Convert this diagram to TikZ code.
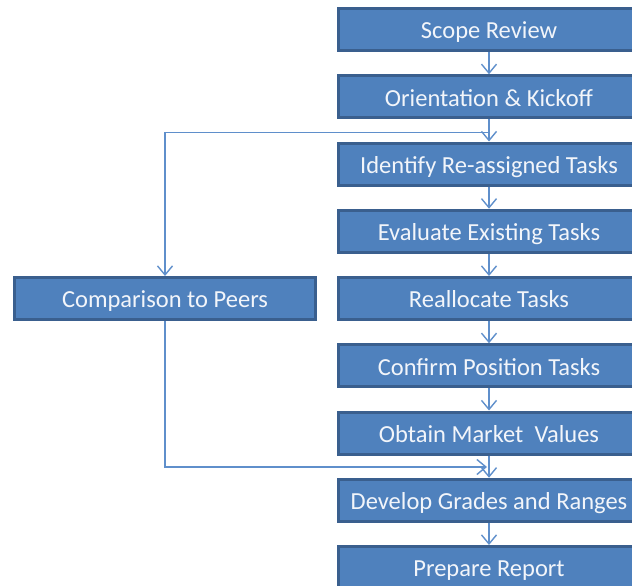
\documentclass[tikz,border=0pt]{standalone}
\usepackage{fontspec}
\setmainfont{Carlito}
\usetikzlibrary{arrows.meta}
\definecolor{boxfill}{HTML}{4F81BD}
\definecolor{boxedge}{HTML}{3A5F8E}
\definecolor{linkblue}{HTML}{5F8FCB}
\definecolor{boxtext}{HTML}{F2F5FA}
\tikzset{
  stepbox/.style={draw=boxedge, fill=boxfill, line width=3pt,
    minimum width=301pt, minimum height=42pt, inner sep=0pt,
    text height=20pt, text depth=1.2pt,
    text=boxtext, font=\fontsize{24.5}{26}\selectfont},
  link/.style={draw=linkblue, line width=1.6pt,
    -{Straight Barb[length=9pt,width=15pt,line width=1.4pt]}}
}
\begin{document}
\begin{tikzpicture}[x=1pt,y=-1pt]
\useasboundingbox (0,0) rectangle (632,586);
\clip (0,0) rectangle (632,586);
% main column
\node[stepbox] (s1) at (489,29.5)   {Scope\ Review};
\node[stepbox] (s2) at (489,96.75)  {Orientation \& Kickoff};
\node[stepbox] (s3) at (489,164)    {Identify Re-assigned Tasks};
\node[stepbox] (s4) at (489,231.25) {Evaluate Existing Tasks};
\node[stepbox] (s5) at (489,298.5)  {Reallocate Tasks};
\node[stepbox] (s6) at (489,365.75) {Confirm Position Tasks};
\node[stepbox] (s7) at (489,433)    {Obtain Market\ \ Values};
\node[stepbox] (s8) at (489,500.25) {Develop Grades and Ranges};
\node[stepbox] (s9) at (489,567.5)  {Prepare\ Report};
% side branch
\node[stepbox] (cmp) at (165,298.5) {Comparison to Peers};
% sequence arrows
\foreach \a/\b in {s1/s2,s2/s3,s3/s4,s4/s5,s5/s6,s6/s7,s7/s8,s8/s9}
  \draw[link] (\a.south) -- (\b.north);
% branch out and back in
\coordinate (split) at (489,132.5);
\coordinate (merge) at (487,467);
\draw[link] (split) -| (cmp.north);
\draw[link] (cmp.south) |- (merge);
\end{tikzpicture}
\end{document}
